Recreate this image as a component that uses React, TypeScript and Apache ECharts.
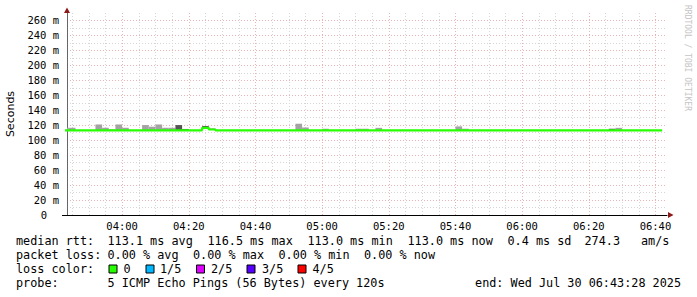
import React, { useEffect, useRef } from 'react';
import * as echarts from 'echarts';

// time in minutes since midnight
const axisStart = 223 + 28 / 60; // 03:43:28
const axisEnd = 403 + 28 / 60; // 06:43:28
const firstInterval = 222; // start of first 2-minute rrd step shown
const stepMinutes = 2;

// median rtt (ms) for each 2-minute step, from 03:42 to 06:42
const medianRtt = [
  113.0, 113.0, 113.0, 113.0, 113.0, 113.0, 113.0, 113.0, 113.0, 113.0,
  113.0, 113.0, 113.0, 113.0, 113.0, 113.0, 113.0, 113.0, 113.0, 113.0,
  113.2, 116.5, 114.3, 113.0, 113.0, 113.0, 113.0, 113.0, 113.0, 113.0,
  113.0, 113.0, 113.0, 113.0, 113.0, 113.0, 113.0, 113.0, 113.0, 113.0,
  113.0, 113.0, 113.0, 113.0, 113.0, 113.0, 113.0, 113.0, 113.0, 113.0,
  113.0, 113.0, 113.0, 113.0, 113.0, 113.0, 113.0, 113.0, 113.0, 113.0,
  113.0, 113.0, 113.0, 113.0, 113.0, 113.0, 113.0, 113.0, 113.0, 113.0,
  113.0, 113.0, 113.0, 113.0, 113.0, 113.0, 113.0, 113.0, 113.0, 113.0,
  113.0, 113.0, 113.0, 113.0, 113.0, 113.0, 113.0, 113.0, 113.0, 113.0,
];

// smoke: step start (minutes), highest ping (ms), dense (1) or sparse (0)
const smokeStart = [222, 224, 232, 234, 236, 238, 240, 246, 248, 250, 252, 254, 256, 258, 264, 266, 292, 294, 300, 310, 312, 316, 340, 342, 386, 388];
const smokeTop = [116.6, 116.6, 121.0, 116.6, 114.5, 121.0, 116.6, 120.2, 118.0, 121.0, 116.6, 116.6, 120.2, 115.0, 119.0, 115.5, 122.0, 117.0, 115.3, 115.3, 115.3, 116.5, 118.4, 115.3, 115.3, 116.5];
const smokeDense = [0, 0, 0, 0, 0, 0, 0, 0, 0, 0, 0, 0, 1, 1, 1, 1, 0, 0, 0, 0, 0, 0, 0, 0, 1, 0];

const majorTimeTicks = [240, 260, 280, 300, 320, 340, 360, 380, 400];
const minorTimeTicks = [225, 230, 235, 245, 250, 255, 265, 270, 275, 285, 290, 295, 305, 310, 315, 325, 330, 335, 345, 350, 355, 365, 370, 375, 385, 390, 395];

const rttLine1 = [
  ['median rtt:', 16], ['113.1 ms avg', 107.5], ['116.5 ms max', 207.5], ['113.0 ms min', 307.5],
  ['113.0 ms now', 407.5], ['0.4 ms sd', 507.5], ['274.3', 584.5], ['am/s', 641],
];
const lossLine = [
  ['packet loss:', 16], ['0.00 % avg', 107.5], ['0.00 % max', 193], ['0.00 % min', 278.5], ['0.00 % now', 364],
];
const lossColorLabels = ['0', '1/5', '2/5', '3/5', '4/5'];
const lossColors = ['#26ff00', '#00b8ff', '#dd00ff', '#5500ff', '#ff0000'];
const probeText = '5 ICMP Echo Pings (56 Bytes) every 120s';
const endText = 'end: Wed Jul 30 06:43:28 2025';

const MONO = '"DejaVu Sans Mono", monospace';

function hhmm(m: number) {
  const h = Math.floor(m / 60);
  const mm = Math.round(m - h * 60);
  return String(h).padStart(2, '0') + ':' + String(mm).padStart(2, '0');
}

export default function App() {
  const ref = useRef<HTMLDivElement>(null);
  useEffect(() => {
    const chart = echarts.init(ref.current!, undefined, { renderer: 'svg' });

    const lineData: number[][] = [];
    medianRtt.forEach((v, i) => {
      const s = firstInterval + i * stepMinutes;
      lineData.push([s, v]);
      lineData.push([s + stepMinutes, v]);
    });
    const smokeData = smokeStart.map((s, i) => {
      const k = (s - firstInterval) / stepMinutes;
      return [s, s + stepMinutes, medianRtt[k], smokeTop[i], smokeDense[i]];
    });

    const yLineColors: string[] = [];
    for (let v = 0; v <= 270; v += 10) {
      yLineColors.push(v === 270 ? 'rgba(0,0,0,0)' : v % 20 === 0 ? '#eab4b4' : '#d6d6d6');
    }

    const graphic: any[] = [
      { type: 'polygon', shape: { points: [[64, 13], [70, 13], [67, 7.5]] }, style: { fill: '#8b1a1a' }, z: 100 },
      { type: 'polygon', shape: { points: [[668, 212], [668, 218], [673.5, 215]] }, style: { fill: '#8b1a1a' }, z: 100 },
      { type: 'line', shape: { x1: 62, y1: 215.5, x2: 67, y2: 215.5 }, style: { stroke: '#000', lineWidth: 1 }, z: 100 },
      {
        type: 'text', x: 687, y: 5, rotation: -Math.PI / 2,
        style: { text: 'RRDTOOL / TOBI OETIKER', fill: '#c4c4c4', font: '8px ' + MONO, align: 'left', verticalAlign: 'middle' },
      },
    ];
    const rowText = (items: any[], y: number) => {
      items.forEach(([t, x]) => {
        graphic.push({ type: 'text', x, y, style: { text: t, fill: '#000', font: '11.8px ' + MONO, align: 'left', verticalAlign: 'middle' } });
      });
    };
    rowText(rttLine1, 241);
    rowText(lossLine, 255);
    rowText([['loss color:', 16]], 269);
    const boxX = [109, 146, 196.5, 247, 298];
    const labX = [123.5, 160, 211, 262, 312.5];
    lossColorLabels.forEach((l, i) => {
      graphic.push({ type: 'rect', shape: { x: boxX[i], y: 265, width: 8, height: 8 }, style: { fill: lossColors[i], stroke: '#000', lineWidth: 1 } });
      graphic.push({ type: 'text', x: labX[i], y: 269, style: { text: l, fill: '#000', font: '11.8px ' + MONO, align: 'left', verticalAlign: 'middle' } });
    });
    rowText([['probe:', 16], [probeText, 107.5]], 283);
    graphic.push({ type: 'text', x: 681, y: 283, style: { text: endText, fill: '#000', font: '11.8px ' + MONO, align: 'right', verticalAlign: 'middle' } });

    chart.setOption({
      animation: false,
      backgroundColor: '#ffffff',
      grid: { left: 67, right: 30, top: 13, bottom: 82, containLabel: false, outerBoundsMode: 'none' },
      xAxis: [
        {
          type: 'value', min: axisStart, max: axisEnd,
          axisLine: { show: true, onZero: false, lineStyle: { color: '#000', width: 1 } },
          axisTick: { show: false, customValues: majorTimeTicks },
          axisLabel: { customValues: majorTimeTicks, formatter: (v: number) => hhmm(v), color: '#000', fontFamily: MONO, fontSize: 10.5, margin: 5 },
          splitLine: { show: true, lineStyle: { color: '#eab4b4', type: [1, 2], width: 1 } },
          z: 2,
        },
        {
          type: 'value', min: axisStart, max: axisEnd, position: 'bottom',
          axisLine: { show: false }, axisTick: { show: false, customValues: minorTimeTicks },
          axisLabel: { show: false, customValues: minorTimeTicks },
          splitLine: { show: true, lineStyle: { color: '#d6d6d6', type: [1, 2], width: 1 } },
          z: 1,
        },
      ],
      yAxis: {
        type: 'value', min: 0, max: 270, interval: 10,
        name: 'Seconds', nameLocation: 'middle', nameRotate: 90, nameGap: 51,
        nameTextStyle: { fontFamily: '"DejaVu Sans", sans-serif', fontSize: 11, color: '#000' },
        axisLine: { show: true, lineStyle: { color: '#666', width: 1 } },
        axisTick: { show: false },
        axisLabel: {
          color: '#000', fontFamily: MONO, fontSize: 10.5, margin: 8,
          formatter: (v: number) => (v % 20 !== 0 || v > 260 ? '' : v === 0 ? '{z|0}' : v + ' m'),
          rich: { z: { fontFamily: MONO, fontSize: 10.5, color: '#000', padding: [0, 12, 0, 0] } },
        },
        splitLine: { show: true, lineStyle: { color: yLineColors, type: [1, 2], width: 1 } },
      },
      graphic,
      series: [
        {
          type: 'custom', xAxisIndex: 0, clip: true, z: 2,
          data: smokeData,
          encode: { x: [0, 1], y: [2, 3] },
          renderItem: (params: any, api: any) => {
            const a = api.coord([api.value(0), api.value(3)]);
            const b = api.coord([api.value(1), api.value(2)]);
            return {
              type: 'rect',
              shape: { x: a[0], y: a[1], width: b[0] - a[0], height: b[1] - a[1] },
              style: { fill: api.value(4) ? '#555555' : '#a3a3a3' },
            };
          },
        },
        {
          type: 'line', xAxisIndex: 0, data: lineData, symbol: 'none', clip: true, z: 3,
          lineStyle: { color: '#26ff00', width: 2.2 },
        },
      ],
    });
    return () => chart.dispose();
  }, []);
  return <div ref={ref} style={{ position: 'fixed', left: 0, top: 0, width: 697, height: 297, background: '#fff' }} />;
}
